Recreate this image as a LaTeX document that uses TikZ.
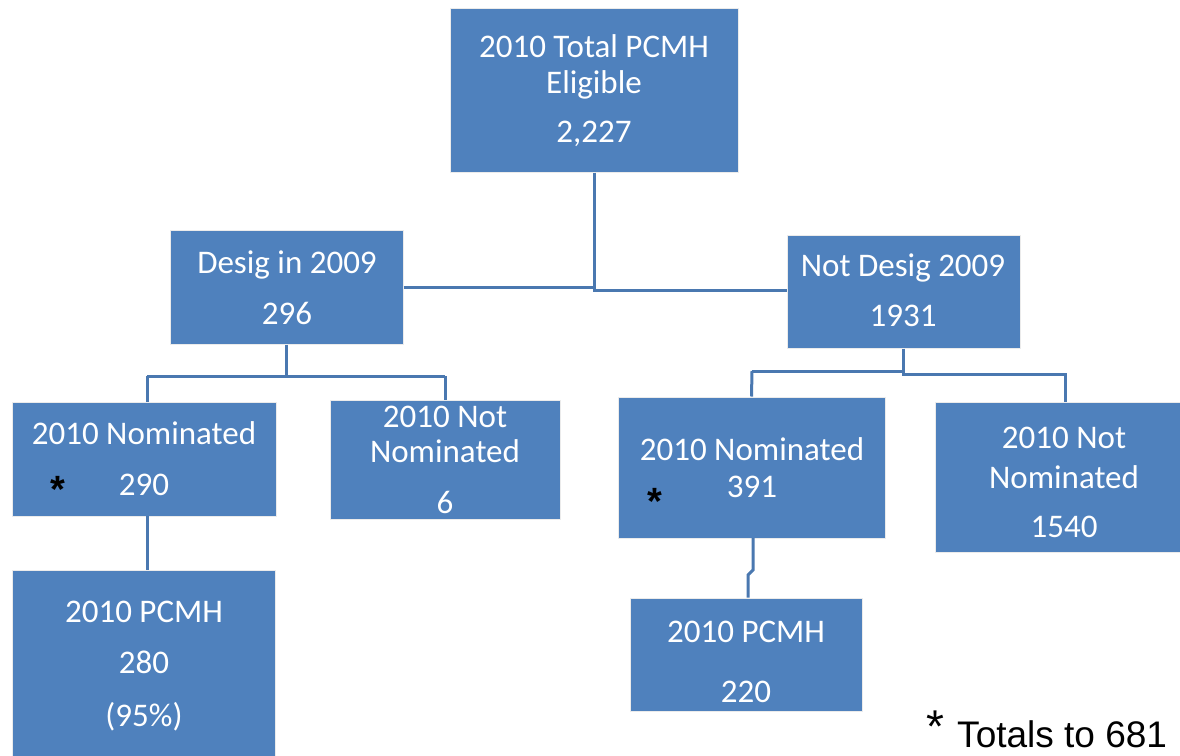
\documentclass[tikz,border=0pt]{standalone}
\usepackage{fontspec}
\setmainfont{Carlito}
\newfontfamily\arialfont{Liberation Sans}
\usetikzlibrary{calc}
\definecolor{boxblue}{HTML}{4F81BD}
\definecolor{linkblue}{HTML}{4A78B0}
\tikzset{
  box/.style={rectangle, fill=boxblue, draw=black!8, line width=1pt, inner sep=0pt},
  lbl/.style={anchor=base, text=white, inner sep=0pt, font=\fontsize{33}{38}\selectfont},
  star/.style={anchor=base, text=black, inner sep=0pt, font=\arialfont\bfseries\fontsize{38}{40}\selectfont},
  link/.style={draw=linkblue, line width=3pt}
}
\begin{document}
\begin{tikzpicture}[x=1pt,y=-1pt]
\useasboundingbox (0,0) rectangle (1180,755);
\begin{scope}
\clip (0,0) rectangle (1180,755);
% boxes
\node[box, minimum width=288pt, minimum height=164pt] (top) at (594,90) {};
\node[box, minimum width=233pt, minimum height=114pt] (desig) at (286.5,287) {};
\node[box, minimum width=233pt, minimum height=113pt] (notdesig) at (903.5,291.5) {};
\node[box, minimum width=264pt, minimum height=114pt] (nomL) at (144,459) {};
\node[box, minimum width=230pt, minimum height=119pt] (notnomL) at (445,459.5) {};
\node[box, minimum width=267pt, minimum height=141pt] (nomR) at (751.5,467.5) {};
\node[box, minimum width=245pt, minimum height=150pt] (notnomR) at (1057.5,477) {};
\node[box, minimum width=263pt, minimum height=200pt] (pcmhL) at (143.5,670) {};
\node[box, minimum width=232pt, minimum height=113pt] (pcmhR) at (746,654.5) {};
\end{scope}
% connectors
\coordinate (tj) at (594,290);
\draw[link] (top.south) -- (tj) -- (tj -| notdesig.west);
\draw[link] (desig.east) -- (desig.east -| tj);
\coordinate (dj) at (286.5,375);
\draw[link] (desig.south) -- (dj);
\draw[link] (147,376) -- (445,376);
\draw[link] (147,376) -- (147,402);
\draw[link] (445,376) -- (notnomL.north);
\draw[link] (notdesig.south) -- (903.5,373);
\draw[link] (752,371) -- (903.5,371) -- (903.5,374) -- (1065,374) -- (1065,402);
\draw[link] (752,371) -- (nomR.north);
\draw[link] (147,516) -- (147,570);
\draw[link] (753,538) -- (753,570) -- (748,575) -- (pcmhR.north -| 748,0);
% labels
\node[lbl] (t1) at (594,57) {2010 Total PCMH};
\node[lbl] (t2) at (594,93) {Eligible};
\node[lbl] (t3) at (594,142) {2,227};
\node[lbl] (d1) at (287,273) {Desig in 2009};
\node[lbl] (d2) at (287,324) {296};
\node[lbl] (n1) at (903,276) {Not Desig 2009};
\node[lbl] (n2) at (903,326) {1931};
\node[lbl] (a1) at (144,444) {2010 Nominated};
\node[lbl] (a2) at (144,495) {290};
\node[star] (a3) at (58,502) {*};
\node[lbl] (b1) at (445,427) {2010 Not};
\node[lbl] (b2) at (445,462) {Nominated};
\node[lbl] (b3) at (445,513) {6};
\node[lbl] (c1) at (752,460) {2010 Nominated};
\node[lbl] (c2) at (752,497) {391};
\node[star] (c3) at (655,514) {*};
\node[lbl] (e1) at (1064,448) {2010 Not};
\node[lbl] (e2) at (1064,488) {Nominated};
\node[lbl] (e3) at (1064,537) {1540};
\node[lbl] (f1) at (144,622) {2010 PCMH};
\node[lbl] (f2) at (144,673) {280};
\node[lbl] (f3) at (144,726) {(95\%)};
\node[lbl] (g1) at (746,642) {2010 PCMH};
\node[lbl] (g2) at (746,702) {220};
\node[anchor=base west, inner sep=0pt, font=\arialfont\fontsize{46}{48}\selectfont] (h1) at (926,742) {*};
\node[anchor=base west, inner sep=0pt, font=\arialfont\fontsize{37}{40}\selectfont] (h2) at (957,747) {Totals to 681};
\end{tikzpicture}
\end{document}
